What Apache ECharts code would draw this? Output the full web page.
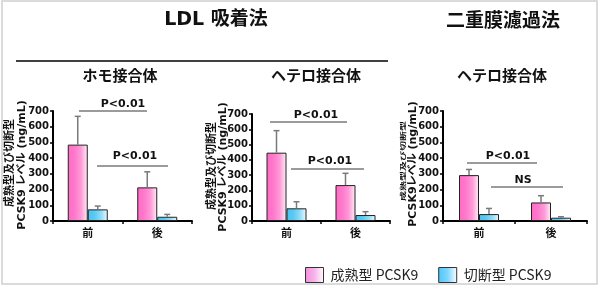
<!DOCTYPE html>
<html>
<head>
<meta charset="utf-8">
<script src="https://cdn.jsdelivr.net/npm/echarts@6/dist/echarts.min.js"></script>
<style>
  html, body { margin: 0; padding: 0; background: #fff; }
  #main { width: 600px; height: 286px; }
</style>
</head>
<body>
<div id="main"></div>
<script>
// data (ng/mL)
const categories = ['前', '後'];
const seriesNames = ['成熟型 PCSK9', '切断型 PCSK9'];
const panelTitles = ['ホモ接合体', 'ヘテロ接合体', 'ヘテロ接合体'];
const matureMean = [[486, 214], [447, 235], [292, 118]];
const matureSD = [[180, 99], [144, 77], [36, 43]];
const cleavedMean = [[74, 27], [83, 39], [44, 21]];
const cleavedSD = [[21, 15], [43, 22], [36, 6]];
const pLabels = [['P<0.01', 'P<0.01'], ['P<0.01', 'P<0.01'], ['P<0.01', 'NS']];

const FONT = '"DejaVu Sans", "Noto Sans CJK JP", sans-serif';
const JP = '"Noto Sans CJK JP", sans-serif';

const grids = [
  { left: 53, top: 111, width: 139, height: 110 },
  { left: 252, top: 114, width: 138, height: 107 },
  { left: 443, top: 111, width: 144, height: 110 }
];

function grad(stops) {
  return { type: 'linear', x: 0, y: 0, x2: 1, y2: 0,
    colorStops: stops.map((c, i) => ({ offset: i / (stops.length - 1), color: c })) };
}
const pinkBar = grad(['#ff6cc6', '#ff78cb', '#ff9ad8', '#fff0f8']);
const blueBar = grad(['#4cc2f0', '#5ac9f3', '#8fdcf8', '#eefaff']);

function errRender(offset) {
  return function (params, api) {
    const base = api.coord([api.value(0), api.value(1)]);
    const top = api.coord([api.value(0), api.value(1) + api.value(2)]);
    const x = base[0] + offset;
    const st = { stroke: '#7a7a7a', lineWidth: 1.5 };
    return { type: 'group', children: [
      { type: 'line', shape: { x1: x, y1: base[1], x2: x, y2: top[1] }, style: st },
      { type: 'line', shape: { x1: x - 3, y1: top[1], x2: x + 3, y2: top[1] }, style: st }
    ] };
  };
}

const xAxis = [], yAxis = [], series = [];
grids.forEach((g, i) => {
  xAxis.push({
    type: 'category', gridIndex: i, data: categories,
    axisLine: { lineStyle: { color: '#000', width: 2 } },
    axisTick: { show: true, length: 3, lineStyle: { color: '#000', width: 1.5 } },
    axisLabel: { fontFamily: JP, fontWeight: 'bold', fontSize: 11, color: '#111', margin: 6 }
  });
  yAxis.push({
    type: 'value', gridIndex: i, min: 0, max: 700, interval: 100,
    axisLine: { show: true, lineStyle: { color: '#000', width: 2 } },
    axisTick: { show: true, length: 3, lineStyle: { color: '#000', width: 1.5 } },
    splitLine: { show: false },
    axisLabel: { fontFamily: FONT, fontWeight: 'bold', fontSize: 10, color: '#111', margin: 4 }
  });
  series.push({
    name: seriesNames[0], type: 'bar', xAxisIndex: i, yAxisIndex: i,
    barWidth: 20, barGap: '0%', data: matureMean[i],
    itemStyle: { color: pinkBar, borderColor: '#222', borderWidth: 1 }
  });
  series.push({
    name: seriesNames[1], type: 'bar', xAxisIndex: i, yAxisIndex: i,
    barWidth: 20, barGap: '0%', data: cleavedMean[i],
    itemStyle: { color: blueBar, borderColor: '#222', borderWidth: 1 }
  });
  series.push({
    type: 'custom', xAxisIndex: i, yAxisIndex: i, z: 3,
    renderItem: errRender(-10), encode: { x: 0, y: 1 },
    data: matureMean[i].map((v, k) => [k, v, matureSD[i][k]])
  });
  series.push({
    type: 'custom', xAxisIndex: i, yAxisIndex: i, z: 3,
    renderItem: errRender(10), encode: { x: 0, y: 1 },
    data: cleavedMean[i].map((v, k) => [k, v, cleavedSD[i][k]])
  });
});

function txt(x, y, text, font, extra) {
  return Object.assign({ type: 'text', x: x, y: y,
    style: { text: text, font: font, fill: '#111', align: 'center', verticalAlign: 'middle' } }, extra || {});
}
function hline(x1, x2, y, color, w) {
  return { type: 'line', shape: { x1: x1, y1: y, x2: x2, y2: y }, style: { stroke: color, lineWidth: w } };
}

const rot = Math.PI / 2;
const graphic = [
  { type: 'rect', shape: { x: 2, y: 1, width: 595, height: 283 }, style: { fill: 'none', stroke: '#cfcfcf', lineWidth: 1.5 } },
  txt(216, 20, 'LDL 吸着法', 'bold 19px ' + FONT),
  txt(503, 20, '二重膜濾過法', 'bold 19px ' + JP),
  hline(16, 388, 61, '#000', 1.5),
  txt(120, 75, panelTitles[0], 'bold 15px ' + JP),
  txt(316, 75, panelTitles[1], 'bold 15px ' + JP),
  txt(502, 75, panelTitles[2], 'bold 15px ' + JP),
  // axis names
  txt(9, 163, '成熟型及び切断型', 'bold 11px ' + JP, { rotation: rot }),
  txt(22, 165, 'PCSK9 レベル (ng/mL)', 'bold 11px ' + FONT, { rotation: rot }),
  txt(211, 166, '成熟型及び切断型', 'bold 11px ' + JP, { rotation: rot }),
  txt(223, 167, 'PCSK9 レベル (ng/mL)', 'bold 11px ' + FONT, { rotation: rot }),
  txt(403, 161, '成熟型及び切断型', 'bold 10px ' + JP, { rotation: rot, scaleY: 0.55 }),
  txt(413, 164, 'PCSK9レベル (ng/mL)', 'bold 11px ' + FONT, { rotation: rot }),
  // significance brackets
  hline(79, 147, 111, '#7a7a7a', 1.5), txt(123, 104, pLabels[0][0], 'bold 11px ' + FONT),
  hline(97, 168, 166, '#7a7a7a', 1.5), txt(135, 156, pLabels[0][1], 'bold 11px ' + FONT),
  hline(270, 347, 122, '#7a7a7a', 1.5), txt(316, 115, pLabels[1][0], 'bold 11px ' + FONT),
  hline(291, 364, 169, '#7a7a7a', 1.5), txt(330, 161, pLabels[1][1], 'bold 11px ' + FONT),
  hline(467, 537, 163, '#7a7a7a', 1.5), txt(508, 156, pLabels[2][0], 'bold 11px ' + FONT),
  hline(491, 563, 187, '#7a7a7a', 1.5), txt(523, 180, pLabels[2][1], 'bold 11px ' + FONT)
];

const chart = echarts.init(document.getElementById('main'), null, { renderer: 'canvas' });
chart.setOption({
  animation: false,
  backgroundColor: '#fff',
  grid: grids,
  xAxis: xAxis,
  yAxis: yAxis,
  legend: {
    left: 300, top: 262, itemWidth: 18, itemHeight: 15, itemGap: 20,
    icon: 'rect',
    textStyle: { fontFamily: JP, fontSize: 14, color: '#222', padding: [0, 0, 0, 2] },
    data: [
      { name: seriesNames[0], itemStyle: { color: grad(['#f28de0', '#f7b4ea', '#ffffff']), borderColor: '#333', borderWidth: 1 } },
      { name: seriesNames[1], itemStyle: { color: grad(['#4cc6ff', '#7dd6ff', '#ffffff']), borderColor: '#333', borderWidth: 1 } }
    ]
  },
  graphic: graphic,
  series: series
});
window.addEventListener('resize', () => chart.resize());
</script>
</body>
</html>
